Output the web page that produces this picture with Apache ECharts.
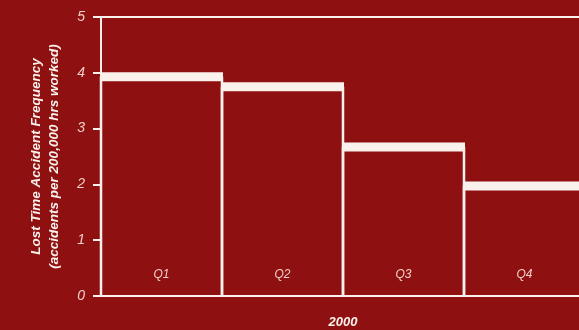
<!DOCTYPE html>
<html><head><meta charset="utf-8">
<script src="https://cdn.jsdelivr.net/npm/echarts@6/dist/echarts.min.js"></script>
<style>html,body{margin:0;padding:0;background:#8e1010;}#c{width:579px;height:330px;}</style>
</head><body><div id="c"></div>
<script>
const categories = ['Q1', 'Q2', 'Q3', 'Q4'];
const values = [3.93, 3.75, 2.67, 1.97];
const yTicks = [0, 1, 2, 3, 4, 5];
const xName = '2000';
const yName = 'Lost Time Accident Frequency\n(accidents per 200,000 hrs worked)';

const BG = '#8e1010';
const WHITE = '#fbf1ec';
const PINK = '#f2cfc8';
const chart = echarts.init(document.getElementById('c'));
chart.setOption({
  backgroundColor: BG,
  animation: false,
  textStyle: { fontFamily: 'Liberation Sans' },
  grid: { left: 101, top: 17, width: 484, bottom: 34, outerBoundsMode: 'none', containLabel: false },
  xAxis: {
    type: 'category', data: categories, boundaryGap: true,
    axisLine: { lineStyle: { color: WHITE, width: 2 } },
    axisTick: { show: false },
    axisLabel: { inside: true, margin: 15, color: PINK, fontStyle: 'italic', fontSize: 12 },
    name: xName, nameLocation: 'middle', nameGap: 20,
    nameTextStyle: { color: WHITE, fontStyle: 'italic', fontWeight: 'bold', fontSize: 13 }
  },
  yAxis: {
    type: 'value', min: yTicks[0], max: yTicks[yTicks.length - 1], interval: 1,
    splitLine: { show: false },
    axisLine: { show: true, lineStyle: { color: WHITE, width: 2 } },
    axisTick: { show: true, length: 8, lineStyle: { color: WHITE, width: 2 } },
    axisLabel: { margin: 16, color: PINK, fontStyle: 'italic', fontSize: 14 },
    name: yName, nameLocation: 'middle', nameRotate: 90, nameGap: 38,
    nameTextStyle: { color: WHITE, fontStyle: 'italic', fontWeight: 'bold', fontSize: 13.5, lineHeight: 18, align: 'center' }
  },
  series: [{
    type: 'custom',
    data: values.map((v, i) => [i, v]),
    encode: { x: 0, y: 1 },
    renderItem: function (params, api) {
      const i = api.value(0), v = api.value(1);
      const top = api.coord([i, v]);
      const base = api.coord([i, 0]);
      const w = api.size([1, 0])[0];
      const x0 = top[0] - w / 2, x1 = top[0] + w / 2;
      const cap = 9;
      return {
        type: 'group',
        children: [
          { type: 'line', shape: { x1: x0, y1: top[1], x2: x0, y2: base[1] }, style: { stroke: WHITE, lineWidth: 2.5 } },
          { type: 'line', shape: { x1: x1, y1: top[1], x2: x1, y2: base[1] }, style: { stroke: WHITE, lineWidth: 2.5 } },
          { type: 'rect', shape: { x: x0, y: top[1] - cap / 2, width: w + 1, height: cap }, style: { fill: WHITE } }
        ]
      };
    },
    markLine: {
      silent: true, symbol: 'none', label: { show: false },
      lineStyle: { color: WHITE, width: 2, type: 'solid' },
      data: [{ yAxis: yTicks[yTicks.length - 1] }]
    }
  }]
});
</script></body></html>
